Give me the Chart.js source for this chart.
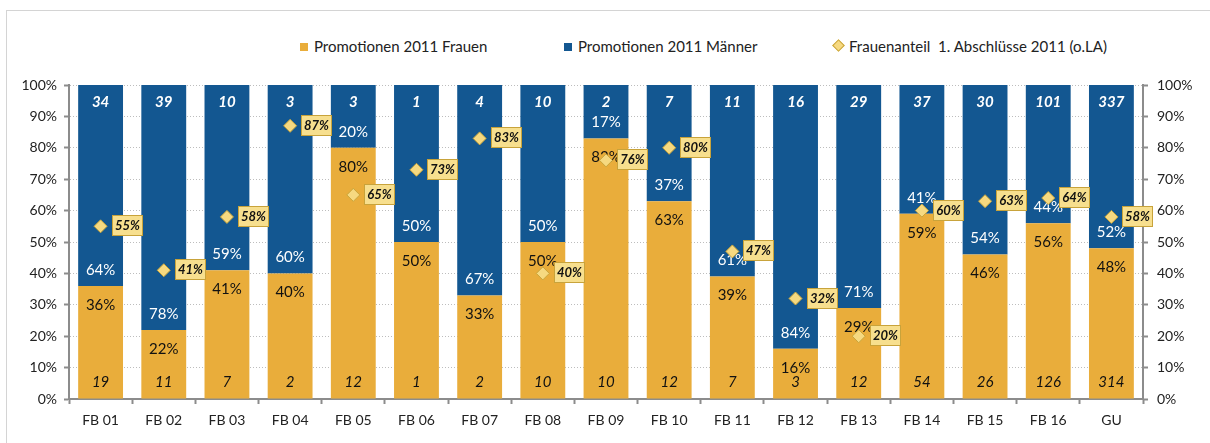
<!DOCTYPE html>
<html>
<head>
<meta charset="utf-8">
<script src="https://cdn.jsdelivr.net/npm/chart.js@4.4.1/dist/chart.umd.min.js"></script>
<style>
html, body { margin: 0; padding: 0; background: #fff; }
#wrap { position: relative; width: 1210px; height: 443px; overflow: hidden; }
#frame { position: absolute; left: 6px; top: 10px; width: 1300px; height: 500px; border: 1px solid #d4d4d4; }
#legend { position: absolute; top: 0; left: 0; width: 1210px; font-family: Lato, sans-serif; font-size: 15px; color: #222; }
.item { position: absolute; top: 36px; white-space: nowrap; line-height: 20px; }
.sq { display: inline-block; width: 8px; height: 8px; margin-right: 6px; vertical-align: 1px; }
.dia { display: inline-block; width: 7px; height: 7px; margin: 0 6px 1px 2px; transform: rotate(45deg); background: #f6d980; border: 1px solid #c9a53a; vertical-align: 1px; }
canvas { position: absolute; left: 0; top: 0; }
</style>
</head>
<body>
<div id="wrap">
  <div id="frame"></div>
  <div id="legend">
    <span class="item" style="left:300px"><span class="sq" style="background:#e9ad3b"></span>Promotionen 2011 Frauen</span>
    <span class="item" style="left:564px"><span class="sq" style="background:#135791"></span>Promotionen 2011 Männer</span>
    <span class="item" style="left:832px"><span class="dia"></span>Frauenanteil &nbsp;1. Abschlüsse 2011 (o.LA)</span>
  </div>
  <canvas id="chart" width="1210" height="443"></canvas>
</div>
<script>
// --- DONNEES ---
const categories = ['FB 01', 'FB 02', 'FB 03', 'FB 04', 'FB 05', 'FB 06', 'FB 07', 'FB 08', 'FB 09',
                    'FB 10', 'FB 11', 'FB 12', 'FB 13', 'FB 14', 'FB 15', 'FB 16', 'GU'];
const frauenPct   = [36, 22, 41, 40, 80, 50, 33, 50, 83, 63, 39, 16, 29, 59, 46, 56, 48];
const maennerPct  = [64, 78, 59, 60, 20, 50, 67, 50, 17, 37, 61, 84, 71, 41, 54, 44, 52];
const frauenCount  = [19, 11, 7, 2, 12, 1, 2, 10, 10, 12, 7, 3, 12, 54, 26, 126, 314];
const maennerCount = [34, 39, 10, 3, 3, 1, 4, 10, 2, 7, 11, 16, 29, 37, 30, 101, 337];
const anteilAbschluss = [55, 41, 58, 87, 65, 73, 83, 40, 76, 80, 47, 32, 20, 60, 63, 64, 58];
const yTicks = [0, 10, 20, 30, 40, 50, 60, 70, 80, 90, 100];

const ORANGE = '#e9ad3b';
const BLUE = '#135791';
const FONT = 'Lato, sans-serif';

// --- ETIQUETTES DANS LES BARRES ---
const barLabels = {
    id: 'barLabels',
    afterDatasetDraw(chart, args) {
        const ctx = chart.ctx;
        ctx.save();
        ctx.textAlign = 'center';
        ctx.textBaseline = 'middle';
        if (args.index === 0) {
            args.meta.data.forEach((bar, i) => {
                ctx.fillStyle = '#111';
                ctx.font = '15px ' + FONT;
                ctx.fillText(frauenPct[i] + '%', bar.x, bar.y + 19);
                ctx.font = 'italic 15px ' + FONT;
                ctx.fillText(frauenCount[i], bar.x, bar.base - 16);
            });
        }
        if (args.index === 1) {
            args.meta.data.forEach((bar, i) => {
                ctx.fillStyle = '#fff';
                ctx.font = '15px ' + FONT;
                ctx.fillText(maennerPct[i] + '%', bar.x, bar.base - 16);
                ctx.font = 'bold italic 15px ' + FONT;
                ctx.fillText(maennerCount[i], bar.x, bar.y + 17);
            });
        }
        ctx.restore();
    },
    afterDatasetsDraw(chart) {
        // petites boites jaunes a droite des losanges
        const ctx = chart.ctx;
        const meta = chart.getDatasetMeta(2);
        ctx.save();
        ctx.textAlign = 'center';
        ctx.textBaseline = 'middle';
        ctx.font = 'bold italic 13px ' + FONT;
        meta.data.forEach((pt, i) => {
            const bx = Math.round(pt.x + 11), by = Math.round(pt.y - 11), bw = 31, bh = 21;
            ctx.fillStyle = '#f7df8e';
            ctx.fillRect(bx, by, bw, bh);
            ctx.strokeStyle = '#c8a33b';
            ctx.lineWidth = 1;
            ctx.strokeRect(bx + 0.5, by + 0.5, bw - 1, bh - 1);
            ctx.fillStyle = '#111';
            ctx.fillText(anteilAbschluss[i] + '%', bx + bw / 2, by + bh / 2 + 0.5);
        });
        ctx.restore();
    }
};

const pctTick = v => v + '%';

new Chart(document.getElementById('chart'), {
    type: 'bar',
    data: {
        labels: categories,
        datasets: [
            {
                label: 'Promotionen 2011 Frauen',
                data: frauenPct,
                backgroundColor: ORANGE,
                barPercentage: 0.71,
                categoryPercentage: 1,
                order: 1
            },
            {
                label: 'Promotionen 2011 Männer',
                data: maennerPct,
                backgroundColor: BLUE,
                barPercentage: 0.71,
                categoryPercentage: 1,
                order: 2
            },
            {
                type: 'line',
                label: 'Frauenanteil 1. Abschlüsse 2011 (o.LA)',
                data: anteilAbschluss,
                showLine: false,
                pointStyle: 'rectRot',
                pointRadius: 6.5,
                pointBackgroundColor: '#f6d980',
                pointBorderColor: '#c9a53a',
                pointBorderWidth: 1,
                order: 0
            }
        ]
    },
    options: {
        responsive: false,
        animation: false,
        layout: { padding: { left: 9, right: 7, top: 85, bottom: 8 } },
        plugins: {
            legend: { display: false },
            tooltip: { enabled: false }
        },
        scales: {
            x: {
                stacked: true,
                offset: true,
                afterFit(scale) { scale.height = 36; },
                grid: {
                    drawOnChartArea: false,
                    drawTicks: true,
                    tickLength: 5,
                    tickColor: '#8c8c8c',
                    tickWidth: 2,
                    offset: true
                },
                border: { color: '#8c8c8c', width: 2 },
                ticks: { color: '#222', font: { family: FONT, size: 14 }, padding: 8 }
            },
            y: {
                stacked: true,
                min: 0,
                max: 100,
                afterFit(scale) { scale.width = 60; },
                afterBuildTicks(scale) { scale.ticks = yTicks.map(v => ({ value: v })); },
                grid: {
                    color: '#bdbdbd',
                    lineWidth: 1,
                    tickLength: 5,
                    tickColor: '#8c8c8c',
                    tickWidth: 2,
                    tickBorderDash: []
                },
                border: { color: '#8c8c8c', width: 2, dash: [1, 2] },
                ticks: { color: '#222', font: { family: FONT, size: 14 }, padding: 7, callback: pctTick }
            },
            y2: {
                position: 'right',
                min: 0,
                max: 100,
                afterFit(scale) { scale.width = 60; },
                afterBuildTicks(scale) { scale.ticks = yTicks.map(v => ({ value: v })); },
                grid: {
                    drawOnChartArea: false,
                    tickLength: 5,
                    tickColor: '#8c8c8c',
                    tickWidth: 2
                },
                border: { color: '#8c8c8c', width: 2 },
                ticks: { color: '#222', font: { family: FONT, size: 14 }, padding: 9, callback: pctTick }
            }
        }
    },
    plugins: [barLabels]
});
</script>
</body>
</html>
